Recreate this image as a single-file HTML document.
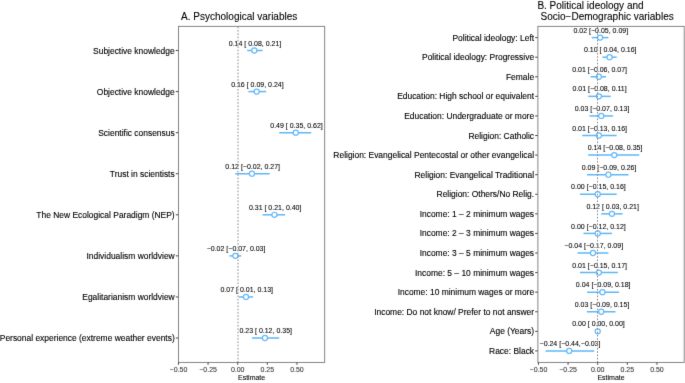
<!DOCTYPE html>
<html><head><meta charset="utf-8"><style>
html,body{margin:0;padding:0;background:#fff;width:685px;height:383px;overflow:hidden}
svg{display:block;will-change:transform;font-family:"Liberation Sans",sans-serif}
.eb{stroke:#5DB7F7;stroke-width:1.5}
.pt{fill:#fff;stroke:#5DB7F7;stroke-width:1.2}
.box{stroke:#707070;stroke-width:0.85}
.axt{stroke:#444;stroke-width:1}
.zero{stroke:#8a8a8a;stroke-width:1.0;stroke-dashoffset:0.3;stroke-dasharray:1.639 1.639}
.val{font-size:7px;fill:#000;stroke:#000;stroke-width:0.08px;text-anchor:middle}
.lbl{font-size:8.45px;fill:#000;stroke:#000;stroke-width:0.12px;text-anchor:end}
.tick{font-size:7.0px;fill:#333;stroke:#333;stroke-width:0.08px;text-anchor:middle}
.est{font-size:7px;fill:#000;stroke:#000;stroke-width:0.08px;text-anchor:middle}
.ttl{font-size:10px;fill:#000;stroke:#000;stroke-width:0.1px}
</style></head><body>
<svg width="685" height="383" viewBox="0 0 685 383">
<defs><filter id="b" x="-5%" y="-5%" width="110%" height="110%"><feConvolveMatrix order="3" kernelMatrix="0.00694 0.06944 0.00694 0.06944 0.69444 0.06944 0.00694 0.06944 0.00694" edgeMode="duplicate" preserveAlpha="false"/></filter></defs>
<rect width="685" height="383" fill="#fff"/>
<g filter="url(#b)">
<line x1="247.18" y1="50.50" x2="262.58" y2="50.50" class="eb"/>
<circle cx="254.29" cy="50.50" r="2.55" class="pt"/>
<text x="255.04" y="45.60" class="val" xml:space="preserve">0.14 [ 0.08, 0.21]</text>
<line x1="175.80" y1="50.50" x2="178.50" y2="50.50" class="axt"/>
<text x="174.70" y="53.50" class="lbl">Subjective knowledge</text>
<line x1="248.36" y1="91.58" x2="266.14" y2="91.58" class="eb"/>
<circle cx="256.66" cy="91.58" r="2.55" class="pt"/>
<text x="257.41" y="86.68" class="val" xml:space="preserve">0.16 [ 0.09, 0.24]</text>
<line x1="175.80" y1="91.58" x2="178.50" y2="91.58" class="axt"/>
<text x="174.70" y="94.58" class="lbl">Objective knowledge</text>
<line x1="279.17" y1="132.65" x2="311.17" y2="132.65" class="eb"/>
<circle cx="295.76" cy="132.65" r="2.55" class="pt"/>
<text x="296.51" y="127.75" class="val" xml:space="preserve">0.49 [ 0.35, 0.62]</text>
<line x1="175.80" y1="132.65" x2="178.50" y2="132.65" class="axt"/>
<text x="174.70" y="135.65" class="lbl">Scientific consensus</text>
<line x1="235.33" y1="173.72" x2="269.69" y2="173.72" class="eb"/>
<circle cx="251.92" cy="173.72" r="2.55" class="pt"/>
<text x="252.67" y="168.82" class="val" xml:space="preserve">0.12 [−0.02, 0.27]</text>
<line x1="175.80" y1="173.72" x2="178.50" y2="173.72" class="axt"/>
<text x="174.70" y="176.72" class="lbl">Trust in scientists</text>
<line x1="262.58" y1="214.80" x2="285.10" y2="214.80" class="eb"/>
<circle cx="274.44" cy="214.80" r="2.55" class="pt"/>
<text x="275.19" y="209.90" class="val" xml:space="preserve">0.31 [ 0.21, 0.40]</text>
<line x1="175.80" y1="214.80" x2="178.50" y2="214.80" class="axt"/>
<text x="174.70" y="217.80" class="lbl">The New Ecological Paradigm (NEP)</text>
<line x1="229.41" y1="255.87" x2="241.25" y2="255.87" class="eb"/>
<circle cx="235.33" cy="255.87" r="2.55" class="pt"/>
<text x="236.08" y="250.97" class="val" xml:space="preserve">−0.02 [−0.07, 0.03]</text>
<line x1="175.80" y1="255.87" x2="178.50" y2="255.87" class="axt"/>
<text x="174.70" y="258.87" class="lbl">Individualism worldview</text>
<line x1="238.88" y1="296.94" x2="253.10" y2="296.94" class="eb"/>
<circle cx="245.99" cy="296.94" r="2.55" class="pt"/>
<text x="246.74" y="292.04" class="val" xml:space="preserve">0.07 [ 0.01, 0.13]</text>
<line x1="175.80" y1="296.94" x2="178.50" y2="296.94" class="axt"/>
<text x="174.70" y="299.94" class="lbl">Egalitarianism worldview</text>
<line x1="251.92" y1="338.02" x2="279.17" y2="338.02" class="eb"/>
<circle cx="264.95" cy="338.02" r="2.55" class="pt"/>
<text x="265.70" y="333.12" class="val" xml:space="preserve">0.23 [ 0.12, 0.35]</text>
<line x1="175.80" y1="338.02" x2="178.50" y2="338.02" class="axt"/>
<text x="174.70" y="341.02" class="lbl">Personal experience (extreme weather events)</text>
<line x1="238.00" y1="362.40" x2="238.00" y2="26.35" class="zero"/>
<rect x="178.50" y="26.35" width="146.20" height="336.05" class="box" fill="none"/>
<line x1="178.45" y1="362.40" x2="178.45" y2="364.80" class="axt"/>
<text x="178.45" y="371.80" class="tick">−0.50</text>
<line x1="208.07" y1="362.40" x2="208.07" y2="364.80" class="axt"/>
<text x="208.07" y="371.80" class="tick">−0.25</text>
<line x1="237.70" y1="362.40" x2="237.70" y2="364.80" class="axt"/>
<text x="237.70" y="371.80" class="tick">0.00</text>
<line x1="267.32" y1="362.40" x2="267.32" y2="364.80" class="axt"/>
<text x="267.32" y="371.80" class="tick">0.25</text>
<line x1="296.95" y1="362.40" x2="296.95" y2="364.80" class="axt"/>
<text x="296.95" y="371.80" class="tick">0.50</text>
<text x="251.60" y="380.10" class="est">Estimate</text>
<line x1="591.78" y1="37.61" x2="608.37" y2="37.61" class="eb"/>
<circle cx="600.07" cy="37.61" r="2.55" class="pt"/>
<text x="600.82" y="32.71" class="val" xml:space="preserve">0.02 [−0.05, 0.09]</text>
<line x1="535.20" y1="37.61" x2="537.90" y2="37.61" class="axt"/>
<text x="534.10" y="40.61" class="lbl">Political ideology: Left</text>
<line x1="602.44" y1="57.19" x2="616.66" y2="57.19" class="eb"/>
<circle cx="609.55" cy="57.19" r="2.55" class="pt"/>
<text x="610.30" y="52.29" class="val" xml:space="preserve">0.10 [ 0.04, 0.16]</text>
<line x1="535.20" y1="57.19" x2="537.90" y2="57.19" class="axt"/>
<text x="534.10" y="60.19" class="lbl">Political ideology: Progressive</text>
<line x1="590.59" y1="76.77" x2="606.00" y2="76.77" class="eb"/>
<circle cx="598.88" cy="76.77" r="2.55" class="pt"/>
<text x="599.63" y="71.87" class="val" xml:space="preserve">0.01 [−0.06, 0.07]</text>
<line x1="535.20" y1="76.77" x2="537.90" y2="76.77" class="axt"/>
<text x="534.10" y="79.77" class="lbl">Female</text>
<line x1="588.22" y1="96.35" x2="610.74" y2="96.35" class="eb"/>
<circle cx="598.88" cy="96.35" r="2.55" class="pt"/>
<text x="599.63" y="91.45" class="val" xml:space="preserve">0.01 [−0.08, 0.11]</text>
<line x1="535.20" y1="96.35" x2="537.90" y2="96.35" class="axt"/>
<text x="534.10" y="99.35" class="lbl">Education: High school or equivalent</text>
<line x1="589.41" y1="115.93" x2="613.11" y2="115.93" class="eb"/>
<circle cx="601.25" cy="115.93" r="2.55" class="pt"/>
<text x="602.00" y="111.03" class="val" xml:space="preserve">0.03 [−0.07, 0.13]</text>
<line x1="535.20" y1="115.93" x2="537.90" y2="115.93" class="axt"/>
<text x="534.10" y="118.93" class="lbl">Education: Undergraduate or more</text>
<line x1="582.30" y1="135.52" x2="616.66" y2="135.52" class="eb"/>
<circle cx="598.88" cy="135.52" r="2.55" class="pt"/>
<text x="599.63" y="130.62" class="val" xml:space="preserve">0.01 [−0.13, 0.16]</text>
<line x1="535.20" y1="135.52" x2="537.90" y2="135.52" class="axt"/>
<text x="534.10" y="138.52" class="lbl">Religion: Catholic</text>
<line x1="588.22" y1="155.10" x2="639.18" y2="155.10" class="eb"/>
<circle cx="614.29" cy="155.10" r="2.55" class="pt"/>
<text x="615.04" y="150.20" class="val" xml:space="preserve">0.14 [−0.08, 0.35]</text>
<line x1="535.20" y1="155.10" x2="537.90" y2="155.10" class="axt"/>
<text x="534.10" y="158.10" class="lbl">Religion: Evangelical Pentecostal or other evangelical</text>
<line x1="587.04" y1="174.68" x2="628.51" y2="174.68" class="eb"/>
<circle cx="608.37" cy="174.68" r="2.55" class="pt"/>
<text x="609.12" y="169.78" class="val" xml:space="preserve">0.09 [−0.09, 0.26]</text>
<line x1="535.20" y1="174.68" x2="537.90" y2="174.68" class="axt"/>
<text x="534.10" y="177.68" class="lbl">Religion: Evangelical Traditional</text>
<line x1="579.93" y1="194.26" x2="616.66" y2="194.26" class="eb"/>
<circle cx="597.70" cy="194.26" r="2.55" class="pt"/>
<text x="598.45" y="189.36" class="val" xml:space="preserve">0.00 [−0.15, 0.16]</text>
<line x1="535.20" y1="194.26" x2="537.90" y2="194.26" class="axt"/>
<text x="534.10" y="197.26" class="lbl">Religion: Others/No Relig.</text>
<line x1="601.25" y1="213.84" x2="622.59" y2="213.84" class="eb"/>
<circle cx="611.92" cy="213.84" r="2.55" class="pt"/>
<text x="612.67" y="208.94" class="val" xml:space="preserve">0.12 [ 0.03, 0.21]</text>
<line x1="535.20" y1="213.84" x2="537.90" y2="213.84" class="axt"/>
<text x="534.10" y="216.84" class="lbl">Income: 1 – 2 minimum wages</text>
<line x1="583.48" y1="233.42" x2="611.92" y2="233.42" class="eb"/>
<circle cx="597.70" cy="233.42" r="2.55" class="pt"/>
<text x="598.45" y="228.52" class="val" xml:space="preserve">0.00 [−0.12, 0.12]</text>
<line x1="535.20" y1="233.42" x2="537.90" y2="233.42" class="axt"/>
<text x="534.10" y="236.42" class="lbl">Income: 2 – 3 minimum wages</text>
<line x1="577.56" y1="253.00" x2="608.37" y2="253.00" class="eb"/>
<circle cx="592.96" cy="253.00" r="2.55" class="pt"/>
<text x="593.71" y="248.10" class="val" xml:space="preserve">−0.04 [−0.17, 0.09]</text>
<line x1="535.20" y1="253.00" x2="537.90" y2="253.00" class="axt"/>
<text x="534.10" y="256.00" class="lbl">Income: 3 – 5 minimum wages</text>
<line x1="579.93" y1="272.59" x2="617.85" y2="272.59" class="eb"/>
<circle cx="598.88" cy="272.59" r="2.55" class="pt"/>
<text x="599.63" y="267.69" class="val" xml:space="preserve">0.01 [−0.15, 0.17]</text>
<line x1="535.20" y1="272.59" x2="537.90" y2="272.59" class="axt"/>
<text x="534.10" y="275.59" class="lbl">Income: 5 – 10 minimum wages</text>
<line x1="587.04" y1="292.17" x2="619.03" y2="292.17" class="eb"/>
<circle cx="602.44" cy="292.17" r="2.55" class="pt"/>
<text x="603.19" y="287.27" class="val" xml:space="preserve">0.04 [−0.09, 0.18]</text>
<line x1="535.20" y1="292.17" x2="537.90" y2="292.17" class="axt"/>
<text x="534.10" y="295.17" class="lbl">Income: 10 minimum wages or more</text>
<line x1="587.04" y1="311.75" x2="615.48" y2="311.75" class="eb"/>
<circle cx="601.25" cy="311.75" r="2.55" class="pt"/>
<text x="602.00" y="306.85" class="val" xml:space="preserve">0.03 [−0.09, 0.15]</text>
<line x1="535.20" y1="311.75" x2="537.90" y2="311.75" class="axt"/>
<text x="534.10" y="314.75" class="lbl">Income: Do not know/ Prefer to not answer</text>
<line x1="597.70" y1="331.33" x2="597.70" y2="331.33" class="eb"/>
<circle cx="597.70" cy="331.33" r="2.55" class="pt"/>
<text x="598.45" y="326.43" class="val" xml:space="preserve">0.00 [ 0.00, 0.00]</text>
<line x1="535.20" y1="331.33" x2="537.90" y2="331.33" class="axt"/>
<text x="534.10" y="334.33" class="lbl">Age (Years)</text>
<line x1="545.56" y1="350.91" x2="594.15" y2="350.91" class="eb"/>
<circle cx="569.26" cy="350.91" r="2.55" class="pt"/>
<text x="570.01" y="346.01" class="val" xml:space="preserve">−0.24 [−0.44,−0.03]</text>
<line x1="535.20" y1="350.91" x2="537.90" y2="350.91" class="axt"/>
<text x="534.10" y="353.91" class="lbl">Race: Black</text>
<line x1="597.50" y1="362.40" x2="597.50" y2="26.35" class="zero"/>
<rect x="537.90" y="26.35" width="146.30" height="336.05" class="box" fill="none"/>
<line x1="538.45" y1="362.40" x2="538.45" y2="364.80" class="axt"/>
<text x="538.45" y="371.80" class="tick">−0.50</text>
<line x1="568.08" y1="362.40" x2="568.08" y2="364.80" class="axt"/>
<text x="568.08" y="371.80" class="tick">−0.25</text>
<line x1="597.70" y1="362.40" x2="597.70" y2="364.80" class="axt"/>
<text x="597.70" y="371.80" class="tick">0.00</text>
<line x1="627.33" y1="362.40" x2="627.33" y2="364.80" class="axt"/>
<text x="627.33" y="371.80" class="tick">0.25</text>
<line x1="656.95" y1="362.40" x2="656.95" y2="364.80" class="axt"/>
<text x="656.95" y="371.80" class="tick">0.50</text>
<text x="611.05" y="380.10" class="est">Estimate</text>
<text x="181.1" y="19.5" class="ttl">A. Psychological variables</text>
<text x="537.4" y="8.9" class="ttl">B. Political ideology and</text>
<text x="540.6" y="19.5" class="ttl">Socio−Demographic variables</text>
</g>
</svg>
</body></html>
